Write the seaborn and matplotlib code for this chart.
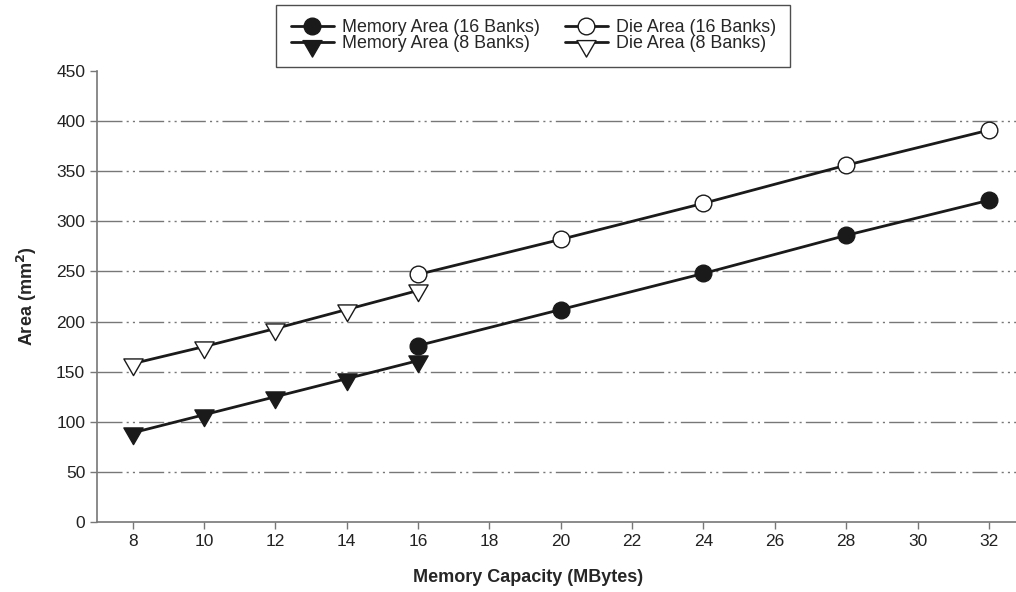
import matplotlib
matplotlib.use('Agg')
import matplotlib.pyplot as plt
from matplotlib.path import Path
from matplotlib.lines import Line2D
import seaborn as sns
import pandas as pd

# data
cap_16 = [16, 20, 24, 28, 32]
cap_8 = [8, 10, 12, 14, 16]
mem_area_16 = [176, 212, 248, 286, 321]
die_area_16 = [247, 282, 318, 356, 391]
mem_area_8 = [89, 107, 125, 143, 161]
die_area_8 = [158, 175, 193, 212, 231]
x_ticks = list(range(8, 33, 2))
y_ticks = list(range(0, 451, 50))

sns.set_style('white')
plt.rcParams['font.family'] = ['Liberation Sans', 'DejaVu Sans']

df = pd.concat([
    pd.DataFrame({'cap': cap_16, 'area': mem_area_16, 'series': 'Memory Area (16 Banks)'}),
    pd.DataFrame({'cap': cap_8, 'area': mem_area_8, 'series': 'Memory Area (8 Banks)'}),
    pd.DataFrame({'cap': cap_16, 'area': die_area_16, 'series': 'Die Area (16 Banks)'}),
    pd.DataFrame({'cap': cap_8, 'area': die_area_8, 'series': 'Die Area (8 Banks)'}),
])

# equilateral down triangle centred on its centroid (plot) and hanging (legend)
tri = Path([(-1, 0.577), (1, 0.577), (0, -1.155), (-1, 0.577)],
           [Path.MOVETO, Path.LINETO, Path.LINETO, Path.CLOSEPOLY])
tri_leg = Path([(-1, 0.2), (1, 0.2), (0, -1.53), (-1, 0.2)],
               [Path.MOVETO, Path.LINETO, Path.LINETO, Path.CLOSEPOLY])

ink = '#1a1a1a'
styles = {
    'Memory Area (16 Banks)': ('o', ink),
    'Memory Area (8 Banks)': ('v', ink),
    'Die Area (16 Banks)': ('o', 'white'),
    'Die Area (8 Banks)': ('v', 'white'),
}

fig = plt.figure(figsize=(10.16, 5.92), dpi=100)
ax = fig.add_axes([97 / 1016, 70 / 592, 919 / 1016, 451 / 592])

handles = []
for name, (mk, fc) in styles.items():
    sub = df[df['series'] == name]
    sns.lineplot(data=sub, x='cap', y='area', ax=ax, color=ink, lw=2,
                 marker='o' if mk == 'o' else tri,
                 markersize=12 if mk == 'o' else 16,
                 markerfacecolor=fc, markeredgecolor=ink,
                 markeredgewidth=1.0, zorder=3)
    handles.append(Line2D([], [], color=ink, lw=2,
                          marker='o' if mk == 'o' else tri_leg,
                          markersize=12 if mk == 'o' else 21,
                          markerfacecolor=fc, markeredgecolor=ink,
                          markeredgewidth=1.0, label=name))

for y in y_ticks[1:-1]:
    ax.axhline(y, color='#777777', lw=1.0, dashes=(18, 3, 1.5, 3, 1.5, 3), zorder=1)

ax.set_xlim(7, 32.76)
ax.set_ylim(0, 450)
ax.set_xticks(x_ticks)
ax.set_yticks(y_ticks)
ax.tick_params(axis='both', labelsize=12.5, colors='#222222', length=5,
               width=1, direction='out', color='#777777', bottom=True, left=True)
for s in ['top', 'right']:
    ax.spines[s].set_visible(False)
for s in ['left', 'bottom']:
    ax.spines[s].set_color('#777777')
    ax.spines[s].set_linewidth(1.2)

ax.set_xlabel('Memory Capacity (MBytes)', fontsize=13, fontweight='bold', labelpad=18)
ax.xaxis.set_label_coords(0.469, -0.105)
ax.set_ylabel(r'Area (mm$^\mathbf{2}$)', fontsize=13, fontweight='bold', labelpad=12)

fig.legend(handles=handles, ncol=2, loc='upper center', bbox_to_anchor=(0.525, 0.9916),
           frameon=True, fancybox=False, edgecolor='#222222', fontsize=12.9,
           handlelength=2.4, columnspacing=1.4, labelspacing=-0.05,
           borderpad=0.8, handletextpad=0.45, borderaxespad=0)

fig.savefig('out.png', dpi=100)
